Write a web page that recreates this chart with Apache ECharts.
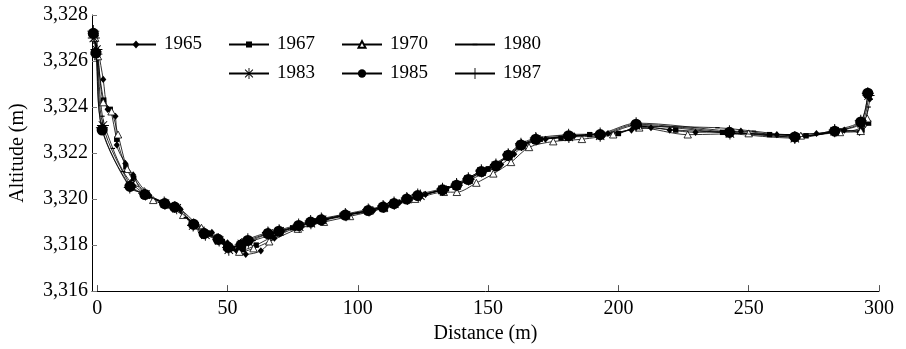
<!DOCTYPE html>
<html>
<head>
<meta charset="utf-8">
<script src="https://cdn.jsdelivr.net/npm/echarts@6/dist/echarts.min.js"></script>
<style>
  html, body { margin: 0; padding: 0; background: #fff; }
  #chart { width: 906px; height: 349px; }
</style>
</head>
<body>
<div id="chart"></div>
<script>
// survey years
const years = ['1965', '1967', '1970', '1980', '1983', '1985', '1987']

// [distance (m), altitude (m)]
const d1965 = [[-0.5, 3327.1], [0.5, 3326.4], [2.3, 3325.2], [4, 3323.9], [7, 3323.6], [7.5, 3322.35], [10.8, 3321.55], [13.8, 3321.05],
  [20, 3320.15], [26, 3319.85], [32, 3319.55], [38, 3318.95], [44, 3318.55], [50, 3318.1], [53.5, 3317.75], [57, 3317.6],
  [62.8, 3317.75], [68, 3318.3], [76, 3318.75], [85, 3319.05], [96, 3319.3], [106, 3319.5], [116, 3319.85], [126, 3320.2],
  [137, 3320.55], [148, 3321.1], [155, 3321.5], [160, 3321.95], [164, 3322.35], [172, 3322.6], [183, 3322.75], [196, 3322.85],
  [205, 3323.0], [212.5, 3323.1], [219.7, 3323.0], [229.6, 3322.9], [247, 3322.95], [260.8, 3322.8], [276, 3322.85],
  [286.7, 3323.0], [292.5, 3322.9], [296.5, 3324.35]]
const d1967 = [[-0.8, 3327.2], [0, 3326.3], [2.5, 3324.3], [5, 3323.9], [7.5, 3322.6], [11, 3321.4], [14, 3320.9], [19, 3320.2],
  [25, 3319.85], [31, 3319.6], [37, 3318.95], [43, 3318.5], [48, 3318.15], [52, 3317.85], [56, 3317.8], [61, 3318.0],
  [67, 3318.35], [75, 3318.75], [84, 3319.05], [94, 3319.3], [104, 3319.5], [114, 3319.8], [124, 3320.15], [134, 3320.45],
  [143, 3320.9], [150, 3321.3], [157, 3321.8], [163, 3322.3], [170, 3322.6], [178, 3322.65], [189, 3322.8], [200, 3322.85],
  [208, 3323.15], [222, 3323.0], [240, 3322.9], [258, 3322.8], [272, 3322.75], [285, 3322.95], [293.5, 3323.0], [296, 3323.3]]
const d1970 = [[-0.8, 3327.0], [0.3, 3326.2], [2.3, 3324.2], [5.5, 3323.8], [8, 3322.8], [11.5, 3321.3], [14.5, 3320.7],
  [21.5, 3319.95], [27, 3319.75], [33, 3319.3], [40, 3318.75], [46, 3318.35], [51, 3317.95], [54.5, 3317.7], [60, 3317.85],
  [66, 3318.15], [77, 3318.7], [87, 3319.0], [97, 3319.25], [110, 3319.6], [122, 3320.0], [133, 3320.3], [138, 3320.3],
  [145.5, 3320.7], [152, 3321.1], [158.8, 3321.6], [165.7, 3322.25], [175, 3322.5], [186, 3322.6], [198, 3322.8],
  [208, 3323.1], [226.6, 3322.8], [250, 3322.85], [270, 3322.75], [285, 3322.9], [293, 3322.95], [295.5, 3323.5]]
const d1980 = [[-1, 3327.1], [0, 3326.2], [2, 3323.6], [6, 3322.2], [10, 3321.2], [14, 3320.6], [20, 3320.1], [27, 3319.75],
  [34, 3319.2], [40, 3318.7], [46, 3318.3], [51, 3317.9], [55, 3318.0], [60, 3318.2], [67, 3318.45], [77, 3318.85],
  [88, 3319.1], [100, 3319.4], [111, 3319.7], [122, 3320.1], [133, 3320.45], [142, 3320.9], [150, 3321.4], [158, 3321.9],
  [165, 3322.45], [175, 3322.65], [188, 3322.8], [200, 3322.9], [210, 3323.15], [238, 3323.1], [252, 3322.95],
  [265, 3322.8], [282, 3322.9], [293, 3323.1], [296, 3324.0]]
const d1983 = [[-1.3, 3327.0], [-0.3, 3326.5], [2.2, 3323.2], [12.8, 3320.6], [18.5, 3320.2], [26, 3319.8], [30.5, 3319.6],
  [36.8, 3318.85], [41.5, 3318.45], [46.8, 3318.2], [50.5, 3317.8], [55.5, 3318.05], [58, 3318.15], [65.8, 3318.5],
  [70, 3318.6], [77.5, 3318.8], [82, 3318.95], [86.3, 3319.1], [95.5, 3319.3], [104.3, 3319.5], [110, 3319.65],
  [114, 3319.8], [119, 3320.0], [124, 3320.15], [132.5, 3320.4], [138, 3320.6], [142.5, 3320.85], [147.5, 3321.2],
  [153, 3321.45], [157.8, 3321.9], [162.8, 3322.35], [168.5, 3322.6], [181, 3322.7], [193, 3322.75], [206.8, 3323.2],
  [242.8, 3322.85], [267.7, 3322.65], [283, 3322.95], [293.3, 3323.3], [296, 3324.5]]
const d1985 = [[-1.5, 3327.2], [-0.5, 3326.35], [1.9, 3323.0], [12.6, 3320.55], [18.3, 3320.2], [25.9, 3319.8],
  [29.7, 3319.65], [37, 3318.9], [41, 3318.5], [46.4, 3318.25], [50.3, 3317.9], [55.2, 3318.0], [57.8, 3318.2],
  [65.5, 3318.5], [69.7, 3318.6], [77.3, 3318.85], [81.9, 3319.0], [86, 3319.1], [95.2, 3319.3], [104, 3319.5],
  [109.7, 3319.65], [113.9, 3319.8], [118.8, 3320.0], [123, 3320.15], [132.5, 3320.4], [137.9, 3320.6], [142.4, 3320.85],
  [147.4, 3321.2], [153, 3321.45], [157.7, 3321.9], [162.6, 3322.35], [168.3, 3322.6], [180.9, 3322.75], [193, 3322.8],
  [206.8, 3323.25], [242.6, 3322.9], [267.7, 3322.7], [283, 3322.95], [293, 3323.35], [295.7, 3324.6]]
const d1987 = [[-1.5, 3327.3], [-0.3, 3326.3], [1.8, 3323.1], [12.5, 3320.5], [18, 3320.25], [25.7, 3319.85], [29.8, 3319.65],
  [37, 3318.9], [41, 3318.55], [46.5, 3318.25], [50.2, 3317.9], [55, 3318.0], [57.8, 3318.25], [65.5, 3318.55],
  [69.8, 3318.65], [77.3, 3318.9], [81.9, 3319.05], [86, 3319.15], [95.2, 3319.35], [104, 3319.55], [109.7, 3319.7],
  [113.9, 3319.85], [118.8, 3320.05], [123, 3320.2], [132.5, 3320.45], [137.9, 3320.65], [142.4, 3320.9], [147.4, 3321.25],
  [153, 3321.5], [157.7, 3321.95], [162.6, 3322.4], [168.3, 3322.65], [180.9, 3322.8], [193, 3322.85], [206.8, 3323.3],
  [242.6, 3322.95], [267.7, 3322.7], [283, 3323.0], [293, 3323.4], [295.7, 3324.6]]

const seriesData = [d1965, d1967, d1970, d1980, d1983, d1985, d1987]

// axis ranges
const xMin = -2
const xMax = 300
const yMin = 3316
const yMax = 3328
const yStep = 2

// marker shapes drawn in a 10x10 box; the leading M0,0M10,10 keeps the box so
// small markers stay small in the legend too
const box = 'path://M0,0M10,10'
const circlePath = box + 'M1.3,5A3.7,3.7,0,1,1,8.7,5A3.7,3.7,0,1,1,1.3,5Z'
const diamondPath = box + 'M5,1.4L8.1,5L5,8.6L1.9,5Z'
const squarePath = box + 'M2.3,2.3h5.4v5.4h-5.4z'
const trianglePath = box + 'M5,2L8.1,7.8L1.9,7.8Z'
const dashPath = box + 'M2.8,4.4h4.4v1.2h-4.4z'
const plusPath = 'path://M4.6,0h0.8v4.6h4.6v0.8h-4.6v4.6h-0.8v-4.6h-4.6v-0.8h4.6z'
const starPath = 'path://M4.6,0L5.4,0L5.4,10L4.6,10Z M0,4.6L10,4.6L10,5.4L0,5.4Z ' +
  'M1.78,1.22L8.78,8.22L8.22,8.78L1.22,1.78Z M8.22,1.22L8.78,1.78L1.78,8.78L1.22,8.22Z'
const markers = [
  { symbol: diamondPath, size: 10, fill: '#000' },
  { symbol: squarePath, size: 10, fill: '#000' },
  { symbol: trianglePath, size: 12, fill: '#fff' },
  { symbol: dashPath, size: 10, fill: '#000' },
  { symbol: starPath, size: 12, fill: '#000' },
  { symbol: circlePath, size: 15, fill: '#000' },
  { symbol: plusPath, size: 12, fill: '#000' }
]

const font = '"Liberation Serif", "Times New Roman", serif'

const myChart = echarts.init(document.getElementById('chart'))

const legendBase = {
  orient: 'horizontal',
  itemWidth: 40,
  itemHeight: 14,
  itemGap: 26,
  padding: 0,
  selectedMode: false,
  textStyle: { fontFamily: font, fontSize: 19, color: '#000', padding: [0, 0, 0, 3] }
}

const option = {
  backgroundColor: '#fff',
  animation: false,
  color: ['#000'],
  grid: { left: 90, right: 27, top: 15, bottom: 56 },
  legend: [
    Object.assign({}, legendBase, { data: years.slice(0, 4), left: 115, top: 35 }),
    Object.assign({}, legendBase, { data: years.slice(4), left: 228, top: 64 })
  ],
  xAxis: {
    type: 'value',
    min: xMin,
    max: xMax,
    splitNumber: 6,
    name: 'Distance (m)',
    nameLocation: 'middle',
    nameGap: 32,
    nameTextStyle: { fontFamily: font, fontSize: 20, color: '#000' },
    axisLine: { onZero: false, lineStyle: { color: '#000', width: 1 } },
    axisTick: { inside: true, length: 6, lineStyle: { color: '#555' } },
    axisLabel: { showMinLabel: false, margin: 8, fontFamily: font, fontSize: 20, color: '#000' },
    splitLine: { show: false }
  },
  yAxis: {
    type: 'value',
    min: yMin,
    max: yMax,
    interval: yStep,
    name: 'Altitude (m)',
    nameLocation: 'middle',
    nameGap: 64,
    nameTextStyle: { fontFamily: font, fontSize: 20, color: '#000' },
    axisLine: { show: true, onZero: false, lineStyle: { color: '#000', width: 1 } },
    axisTick: { show: true, inside: true, length: 5, lineStyle: { color: '#777' } },
    axisLabel: {
      margin: 4,
      fontFamily: font,
      fontSize: 20,
      color: '#000',
      formatter: v => v.toLocaleString('en-US')
    },
    splitLine: { show: false }
  },
  series: years.map((y, i) => ({
    name: y,
    type: 'line',
    data: seriesData[i],
    smooth: 0.3,
    symbol: markers[i].symbol,
    symbolSize: markers[i].size,
    showAllSymbol: true,
    z: i === 5 ? 3 : 2,
    lineStyle: { color: '#000', width: 0.8 },
    itemStyle: {
      color: markers[i].fill,
      borderColor: '#000',
      borderWidth: markers[i].fill === '#fff' ? 0.8 : 0
    }
  }))
}

myChart.setOption(option)
</script>
</body>
</html>
